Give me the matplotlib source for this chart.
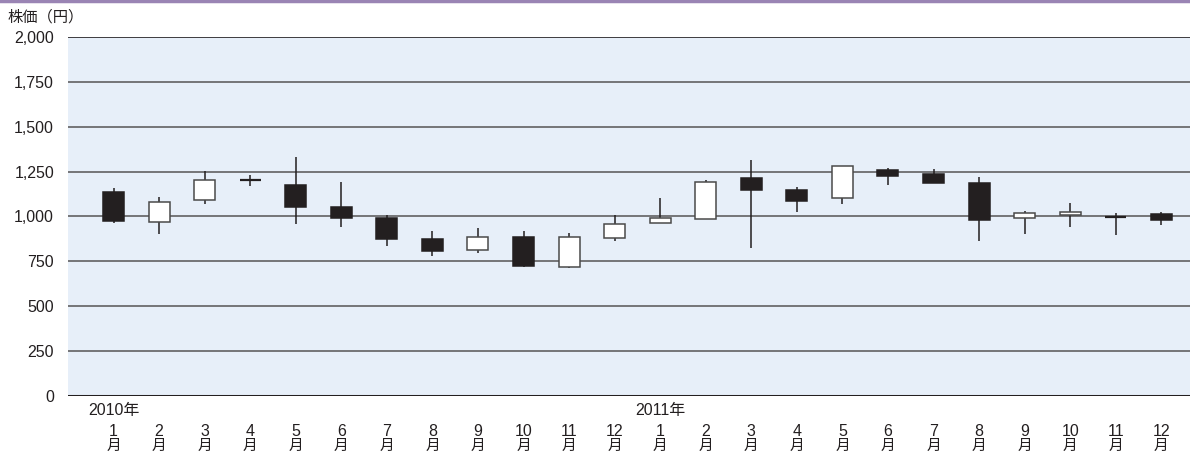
import matplotlib
matplotlib.use("Agg")
import matplotlib.pyplot as plt
from matplotlib.lines import Line2D

plt.rcParams['font.family'] = ['Liberation Sans', 'Noto Sans CJK JP']

# Monthly OHLC (yen), Jan 2010 - Dec 2011
years = ["2010年", "2011年"]
months = [str(m) for m in range(1, 13)] * 2
opens = [1136, 971, 1090, 1203, 1175, 1055, 992, 873, 812, 888, 720, 878,
         964, 984, 1216, 1149, 1105, 1261, 1237, 1188, 990, 1006, 997, 1014]
closes = [975, 1079, 1201, 1203, 1051, 993, 876, 810, 884, 724, 888, 958,
          990, 1192, 1149, 1088, 1281, 1227, 1187, 980, 1018, 1023, 997, 980]
highs = [1157, 1107, 1253, 1229, 1330, 1190, 1006, 921, 934, 919, 906, 1006,
         1101, 1201, 1315, 1162, 1281, 1270, 1263, 1218, 1029, 1077, 1021, 1025]
lows = [962, 901, 1068, 1170, 956, 943, 837, 782, 799, 717, 713, 865,
        964, 984, 823, 1027, 1068, 1174, 1187, 863, 902, 940, 899, 954]
yticks = [0, 250, 500, 750, 1000, 1250, 1500, 1750, 2000]

fig = plt.figure(figsize=(11.9, 4.54), dpi=100)
ax = fig.add_axes([0.0571, 0.1278, 0.9429, 0.7907])
ax.set_facecolor('#e7eff9')

x = list(range(len(opens)))
ax.set_xlim(-1.0, 23.63)
ax.set_ylim(0, 2000)

# horizontal grid
for v in yticks:
    if v == 0:
        ax.axhline(v, color='#231f20', lw=2.2, zorder=1)
    elif v == 2000:
        ax.axhline(v, color='#231f20', lw=1.2, zorder=1)
    else:
        ax.axhline(v, color='#555555', lw=1.1, zorder=1)

dark = '#231f20'
w = 0.46
ax.vlines(x, lows, highs, color=dark, lw=1.1, zorder=2)
for i in x:
    o, c = opens[i], closes[i]
    if o == c:
        ax.hlines(o, i - w / 2, i + w / 2, color=dark, lw=1.6, zorder=3)
        continue
    up = c > o
    ax.bar(i, abs(c - o), bottom=min(o, c), width=w,
           color='white' if up else dark,
           edgecolor='#4a4a4a' if up else dark, lw=1.1, zorder=3)

for s in ax.spines.values():
    s.set_visible(False)
ax.set_yticks(yticks)
ax.set_yticklabels([f"{v:,}" for v in yticks], fontsize=11.5, color='#231f20')
ax.tick_params(axis='y', length=0, pad=10)
ax.set_xticks([])

# month labels and year labels
trans = ax.get_xaxis_transform()
for i, m in zip(x, months):
    ax.text(i, -0.098, m, transform=trans, ha='center', va='center',
            fontsize=11.5, color='#231f20')
    ax.text(i, -0.14, "月", transform=trans, ha='center', va='center',
            fontsize=10.5, color='#231f20')
for k, yl in enumerate(years):
    ax.text(12 * k, -0.04, yl, transform=trans, ha='center', va='center',
            fontsize=11.5, color='#231f20')

fig.text(0.006, 0.962, "株価（円）", ha='left', va='center', fontsize=11,
         color='#231f20')
fig.add_artist(Line2D([0, 1], [0.998, 0.998], color='#9a84b4', lw=2.5,
                      transform=fig.transFigure))

fig.savefig("out.png", dpi=100)
